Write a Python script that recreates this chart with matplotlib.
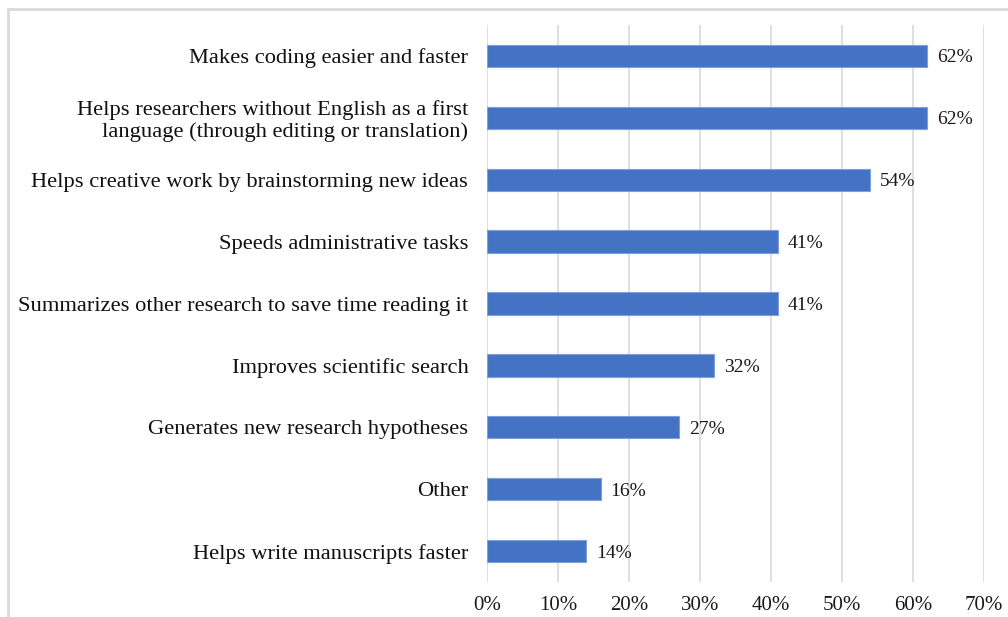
import matplotlib.pyplot as plt
import matplotlib.patches as patches
from matplotlib.ticker import FuncFormatter, MultipleLocator

# data (top to bottom as shown)
categories = [
    "Makes coding easier and faster",
    "Helps researchers without English as a first\nlanguage (through editing or translation)",
    "Helps creative work by brainstorming new ideas",
    "Speeds administrative tasks",
    "Summarizes other research to save time reading it",
    "Improves scientific search",
    "Generates new research hypotheses",
    "Other",
    "Helps write manuscripts faster",
]
values = [62, 62, 54, 41, 41, 32, 27, 16, 14]

plt.rcParams['font.family'] = ['Liberation Serif', 'DejaVu Serif']

fig = plt.figure(figsize=(10.08, 6.17), dpi=100)
ax = fig.add_axes([487 / 1008, 1 - 582 / 617, (984 - 487) / 1008, (582 - 25) / 617])

pos = list(range(len(categories)))
ax.barh(pos, values, height=0.36, color='#4472C4', edgecolor='#7F9FDB',
        linewidth=0.8, zorder=3)

for p, v in zip(pos, values):
    ax.text(v + 1.4, p, f"{v}%", va='center_baseline', ha='left', fontsize=14,
            color='#1a1a1a')

ax.set_xlim(0, 70)
ax.set_ylim(len(categories) - 0.5, -0.5)
ax.set_yticks(pos)
ax.set_yticklabels(categories, fontsize=16.2, color='#111111', linespacing=1.1)
ax.xaxis.set_major_locator(MultipleLocator(10))
ax.xaxis.set_major_formatter(FuncFormatter(lambda x, _: f"{x:.0f}%"))
ax.tick_params(axis='x', labelsize=15, length=0, pad=10, colors='#1a1a1a')
ax.tick_params(axis='y', length=0, pad=13.5)

ax.grid(axis='x', color='#D9D9D9', linewidth=1.2, zorder=0)
for s in ax.spines.values():
    s.set_visible(False)

# light frame around the chart, cut at right and bottom
fig.patches.append(patches.Rectangle((8 / 1008, -0.1), 1.2, 1 - 9 / 617 + 0.1,
                                     transform=fig.transFigure, fill=False,
                                     edgecolor='#D9D9D9', linewidth=2))

fig.savefig('out.png', dpi=100)
